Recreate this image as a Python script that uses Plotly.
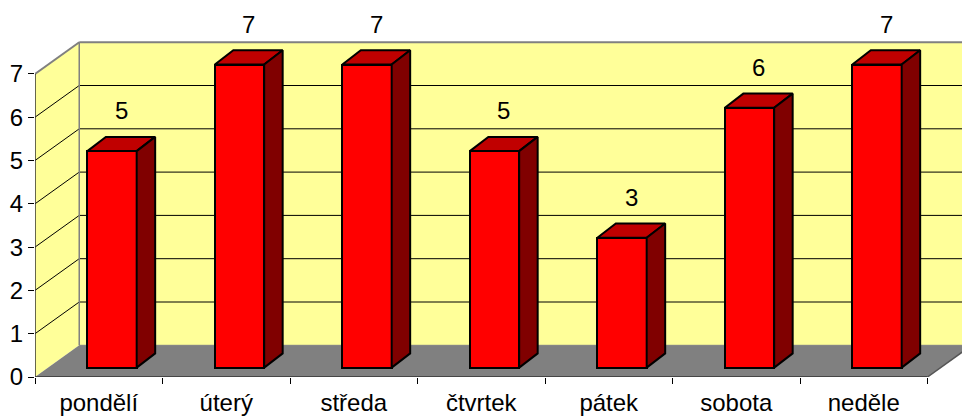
import plotly.graph_objects as go

categories = ["pondělí", "úterý", "středa", "čtvrtek", "pátek", "sobota", "neděle"]
values = [5, 7, 7, 5, 3, 6, 7]
y_ticks = [0, 1, 2, 3, 4, 5, 6, 7]

# oblique projection constants (data units)
WALL_DX, WALL_DY = 0.347, 0.732      # depth of the walls / floor
BAR_X0, BAR_Y0 = 0.104, 0.217        # offset of the bar front face
BAR_DX, BAR_DY = 0.145, 0.328        # depth of each bar
BAR_W = 0.387

n = len(categories)
ymax = max(y_ticks)
FONT = "Liberation Sans, Arial, sans-serif"
FS = 24

W, H = 962, 416
ML, MB = 35, 39
PX_X = 127.5
PX_Y = 43.3

fig = go.Figure()
shapes = []

# back wall
shapes.append(dict(type="rect", xref="x", yref="y", x0=WALL_DX, x1=n + WALL_DX + 1,
                   y0=WALL_DY, y1=ymax + WALL_DY, fillcolor="#FFFF99",
                   line=dict(width=0), layer="below"))
# left wall
shapes.append(dict(type="path", xref="x", yref="y",
                   path=f"M 0,0 L 0,{ymax} L {WALL_DX},{ymax + WALL_DY} L {WALL_DX},{WALL_DY} Z",
                   fillcolor="#FFFF99", line=dict(width=0), layer="below"))
# floor
shapes.append(dict(type="path", xref="x", yref="y",
                   path=f"M 0,0 L {n},0 L {n + WALL_DX},{WALL_DY} L {WALL_DX},{WALL_DY} Z",
                   fillcolor="#808080", line=dict(width=0), layer="below"))
# gridlines
for k in y_ticks[1:-1]:
    shapes.append(dict(type="line", xref="x", yref="y", x0=0, y0=k, x1=WALL_DX, y1=k + WALL_DY,
                       line=dict(color="black", width=1), layer="below"))
    shapes.append(dict(type="line", xref="x", yref="y", x0=WALL_DX, y0=k + WALL_DY,
                       x1=n + WALL_DX + 1, y1=k + WALL_DY,
                       line=dict(color="black", width=1), layer="below"))
# wall edges (grey)
shapes.append(dict(type="line", xref="x", yref="y", x0=0, y0=ymax, x1=WALL_DX, y1=ymax + WALL_DY,
                   line=dict(color="#808080", width=2), layer="below"))
shapes.append(dict(type="line", xref="x", yref="y", x0=WALL_DX, y0=ymax + WALL_DY,
                   x1=n + WALL_DX + 1, y1=ymax + WALL_DY,
                   line=dict(color="#808080", width=2), layer="below"))
shapes.append(dict(type="line", xref="x", yref="y", x0=WALL_DX, y0=WALL_DY, x1=WALL_DX, y1=ymax + WALL_DY,
                   line=dict(color="#808080", width=1.5), layer="below"))
shapes.append(dict(type="line", xref="x", yref="y", x0=WALL_DX, y0=WALL_DY, x1=n + WALL_DX + 1, y1=WALL_DY,
                   line=dict(color="#808080", width=1), layer="below"))
# floor edges and axis line
shapes.append(dict(type="line", xref="x", yref="y", x0=0, y0=0, x1=n, y1=0,
                   line=dict(color="#333333", width=1.5), layer="below"))
shapes.append(dict(type="line", xref="x", yref="y", x0=n, y0=0, x1=n + WALL_DX, y1=WALL_DY,
                   line=dict(color="#555555", width=1.5), layer="below"))
shapes.append(dict(type="line", xref="x", yref="y", x0=0, y0=0, x1=0, y1=ymax,
                   line=dict(color="#333333", width=1.5), layer="below"))

# front faces of the bars
centers = [i + 0.5 + BAR_X0 for i in range(n)]
fig.add_trace(go.Bar(x=centers, y=values, base=BAR_Y0, width=BAR_W,
                     marker=dict(color="#FF0000", line=dict(color="black", width=2)),
                     hoverinfo="skip", showlegend=False))

# top and side faces
for c, v in zip(centers, values):
    xl, xr = c - BAR_W / 2, c + BAR_W / 2
    top = BAR_Y0 + v
    fig.add_trace(go.Scatter(
        x=[xl, xr, xr + BAR_DX, xl + BAR_DX, xl],
        y=[top, top, top + BAR_DY, top + BAR_DY, top],
        mode="lines", fill="toself", fillcolor="#C00000",
        line=dict(color="black", width=2), hoverinfo="skip", showlegend=False))
    fig.add_trace(go.Scatter(
        x=[xr, xr + BAR_DX, xr + BAR_DX, xr, xr],
        y=[BAR_Y0, BAR_Y0 + BAR_DY, top + BAR_DY, top, BAR_Y0],
        mode="lines", fill="toself", fillcolor="#800000",
        line=dict(color="black", width=2), hoverinfo="skip", showlegend=False))

# data labels
annotations = []
for c, v in zip(centers, values):
    annotations.append(dict(x=c + BAR_DX / 2, y=BAR_Y0 + v + BAR_DY, xref="x", yref="y",
                            text=str(v), showarrow=False, yanchor="middle", yshift=26,
                            font=dict(family=FONT, size=FS, color="black")))

fig.update_layout(
    template="none",
    width=W, height=H,
    margin=dict(l=ML, r=0, t=0, b=MB, pad=0, autoexpand=False),
    paper_bgcolor="white", plot_bgcolor="white",
    shapes=shapes, annotations=annotations,
    xaxis=dict(range=[0, (W - ML) / PX_X], tickmode="array", automargin=False,
               tickvals=[i + 0.5 for i in range(n)], ticktext=categories,
               ticks="outside", ticklen=4, tickcolor="rgba(0,0,0,0)",
               minor=dict(tickmode="array", tickvals=list(range(n + 1)), ticks="outside",
                          ticklen=6, tickcolor="black", tickwidth=1),
               showgrid=False, zeroline=False, showline=False,
               tickfont=dict(family=FONT, size=FS, color="black"), fixedrange=True),
    yaxis=dict(range=[0, (H - MB) / PX_Y], tickmode="array", tickvals=y_ticks, automargin=False,
               ticks="outside", ticklen=6, tickcolor="black", tickwidth=1,
               showgrid=False, zeroline=False, showline=False,
               tickfont=dict(family=FONT, size=FS, color="black"), fixedrange=True),
    bargap=0,
)

fig.write_html("out.html", config={"displayModeBar": False},
               post_script="document.body.style.margin='0';document.body.style.overflow='hidden';")
